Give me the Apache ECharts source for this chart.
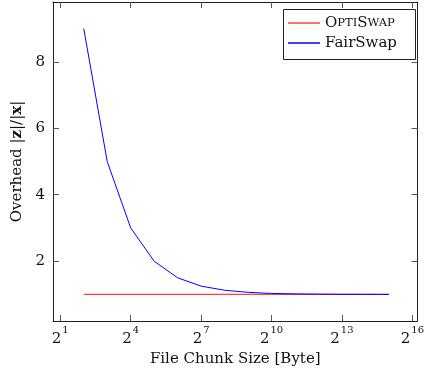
<!DOCTYPE html>
<html><head><meta charset="utf-8">
<script src="https://cdn.jsdelivr.net/npm/echarts@6/dist/echarts.min.js"></script>
<style>html,body{margin:0;padding:0;background:#fff}#c{width:427px;height:376px}</style>
</head><body><div id="c"></div>
<script>
// File chunk sizes in bytes (2^2 .. 2^15)
const chunkSizes = [4, 8, 16, 32, 64, 128, 256, 512, 1024, 2048, 4096, 8192, 16384, 32768];
const optiSwap = [1, 1, 1, 1, 1, 1, 1, 1, 1, 1, 1, 1, 1, 1];
const fairSwap = [9, 5, 3, 2, 1.5, 1.25, 1.125, 1.0625, 1.03, 1.016, 1.008, 1.004, 1.002, 1.001];
const xTickExponents = [1, 4, 7, 10, 13, 16];
const yTicks = [2, 4, 6, 8];

const FONT = 'DejaVu Serif';
const FS = 15;
const toPts = arr => arr.map((v, i) => [Math.log2(chunkSizes[i]), v]);
const supLabel = v => '{b|2}{s|' + v + '}';
const axisCommon = {
  axisLine: {show: true, onZero: false, lineStyle: {color: '#222', width: 1}},
  splitLine: {show: false}
};
const chart = echarts.init(document.getElementById('c'));
chart.setOption({
  animation: false,
  textStyle: {fontFamily: FONT},
  grid: {left: 53, right: 6, top: 2, bottom: 55},
  graphic: [{type: 'rect', left: 283, top: 9, shape: {width: 132, height: 50},
    style: {fill: '#fff', stroke: '#222', lineWidth: 1}, z: 10}],
  legend: {
    orient: 'vertical', left: 283, top: 15, padding: [0, 0, 0, 5], itemGap: 4,
    itemWidth: 32, itemHeight: 1.5, icon: 'rect', z: 20,
    textStyle: {fontFamily: FONT, fontSize: FS, color: '#111', lineHeight: 16, width: 88, align: 'center',
      rich: {L: {fontSize: FS, fontFamily: FONT, color: '#111'}, m: {fontSize: 11.5, fontFamily: FONT, color: '#111'}}},
    formatter: n => n === 'OptiSwap' ? '{L|O}{m|PTI}{L|S}{m|WAP}' : n,
    data: ['OptiSwap', 'FairSwap']
  },
  xAxis: [
    Object.assign({}, axisCommon, {
      type: 'value', min: 0.69, max: 16.22, position: 'bottom',
      axisTick: {show: true, inside: true, length: 6, customValues: xTickExponents, lineStyle: {color: '#555'}},
      axisLabel: {customValues: xTickExponents, formatter: supLabel, margin: 4,
        rich: {b: {fontSize: FS, fontFamily: FONT, color: '#111', lineHeight: 22, verticalAlign: 'bottom'},
               s: {fontSize: 10, fontFamily: FONT, color: '#111', lineHeight: 22, verticalAlign: 'top', padding: [0, 0, 0, 1]}}},
      name: 'File Chunk Size [Byte]', nameLocation: 'middle', nameGap: 30,
      nameTextStyle: {fontFamily: FONT, fontSize: FS, color: '#111'}
    }),
    Object.assign({}, axisCommon, {
      type: 'value', min: 0.69, max: 16.22, position: 'top',
      axisTick: {show: true, inside: true, length: 6, customValues: xTickExponents, lineStyle: {color: '#555'}},
      axisLabel: {show: false}
    })
  ],
  yAxis: [
    Object.assign({}, axisCommon, {
      type: 'value', min: 0.2, max: 9.8, position: 'left',
      axisTick: {show: true, inside: true, length: 6, customValues: yTicks, lineStyle: {color: '#555'}},
      axisLabel: {customValues: yTicks, fontSize: FS, color: '#111', fontFamily: FONT, margin: 8},
      name: '{n|Overhead |}{bd|z}{n||/|}{bd|x}{n||}', nameLocation: 'middle', nameGap: 28, nameRotate: 90,
      nameTextStyle: {fontFamily: FONT, fontSize: FS, color: '#111',
        rich: {n: {fontSize: FS, fontFamily: FONT, color: '#111'}, bd: {fontSize: FS, fontFamily: FONT, fontWeight: 'bold', color: '#111'}}}
    }),
    Object.assign({}, axisCommon, {
      type: 'value', min: 0.2, max: 9.8, position: 'right',
      axisTick: {show: true, inside: true, length: 6, customValues: yTicks, lineStyle: {color: '#555'}},
      axisLabel: {show: false}
    })
  ],
  series: [
    {name: 'OptiSwap', type: 'line', data: toPts(optiSwap), showSymbol: false, symbol: 'none',
     color: '#ff4040', lineStyle: {width: 1.2, color: '#ff4040'}},
    {name: 'FairSwap', type: 'line', data: toPts(fairSwap), showSymbol: false, symbol: 'none',
     color: '#0000ff', lineStyle: {width: 1, color: '#0000ff'}}
  ]
});
</script></body></html>
